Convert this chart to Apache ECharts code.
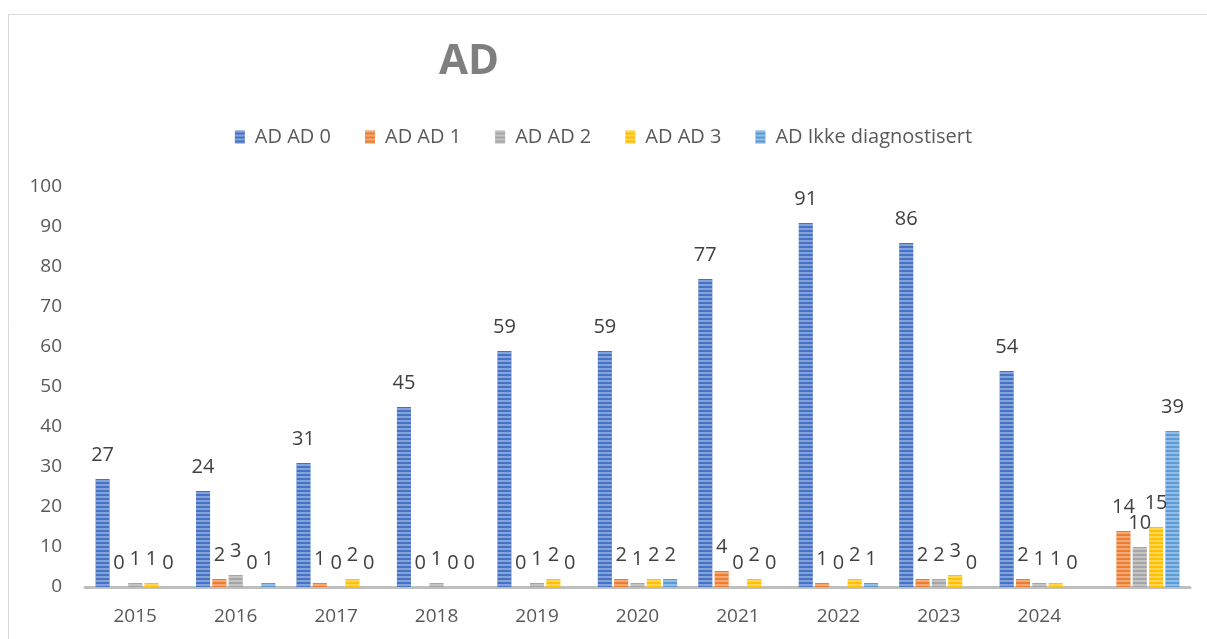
<!DOCTYPE html>
<html><head><meta charset="utf-8">
<script src="https://cdn.jsdelivr.net/npm/echarts@6/dist/echarts.min.js"></script>
<style>html,body{margin:0;padding:0;background:#fff}#c{width:1207px;height:639px}</style>
</head><body><div id="c"></div>
<script>
const categories = ['2015','2016','2017','2018','2019','2020','2021','2022','2023','2024',''];
const seriesNames = ['AD AD 0','AD AD 1','AD AD 2','AD AD 3','AD Ikke diagnostisert'];
const ad0   = [27,24,31,45,59,59,77,91,86,54,null];
const ad1   = [0,2,1,0,0,2,4,1,2,2,14];
const ad2   = [1,3,0,1,1,1,0,0,2,1,10];
const ad3   = [1,0,2,0,2,2,2,2,3,1,15];
const ikke  = [0,1,0,0,0,2,0,1,0,0,39];
const yTicks = [0,10,20,30,40,50,60,70,80,90,100];
const colors = ['#4472C4','#ED7D31','#A5A5A5','#FFC000','#5B9BD5'];
const values = [ad0, ad1, ad2, ad3, ikke];

const chart = echarts.init(document.getElementById('c'));
const font = '"Open Sans", "Liberation Sans", sans-serif';
chart.setOption({
  animation: false,
  textStyle: {fontFamily: font},
  graphic: [{type:'rect', shape:{x:8.5,y:14.5,width:1220,height:640}, style:{fill:'none', stroke:'#d9d9d9', lineWidth:1}, silent:true}],
  title: {text:'AD', left: 434, top: 36, textStyle:{fontSize:42, fontWeight:'bold', color:'#7f7f7f', fontFamily: font}},
  legend: {top: 122, left: 'center', itemWidth: 10, itemHeight: 13, itemGap: 34,
    textStyle:{fontSize:20, color:'#595959', fontFamily: font, padding:[0,0,0,5]}, icon:'rect'},
  grid: {left: 85, right: 17, top: 187, bottom: 52},
  xAxis: {type:'category', data: categories,
    axisLine:{lineStyle:{color:'#bfbfbf', width:3}}, axisTick:{show:false},
    axisLabel:{fontSize:19, color:'#595959', margin:20}},
  yAxis: {type:'value', min:0, max:100, interval:10,
    axisLine:{show:false}, axisTick:{show:false}, splitLine:{show:false},
    axisLabel:{fontSize:19, color:'#595959', margin:23, formatter: v => yTicks.includes(v) ? String(v) : ''}},
  series: seriesNames.map((n,i)=>({
    name:n, type:'bar', data: values[i], barGap:'16%', barCategoryGap:'21%',
    itemStyle:{color: colors[i], decal:{symbol:'rect', dashArrayX:[1,0], dashArrayY:[2,2], rotation:0, color:'rgba(255,255,255,0.35)'}},
    label:{show:true, position:'top', distance:14, fontSize:20, color:'#404040', fontFamily: font,
      formatter: p => p.value == null ? '' : String(p.value)}
  }))
});
</script></body></html>
